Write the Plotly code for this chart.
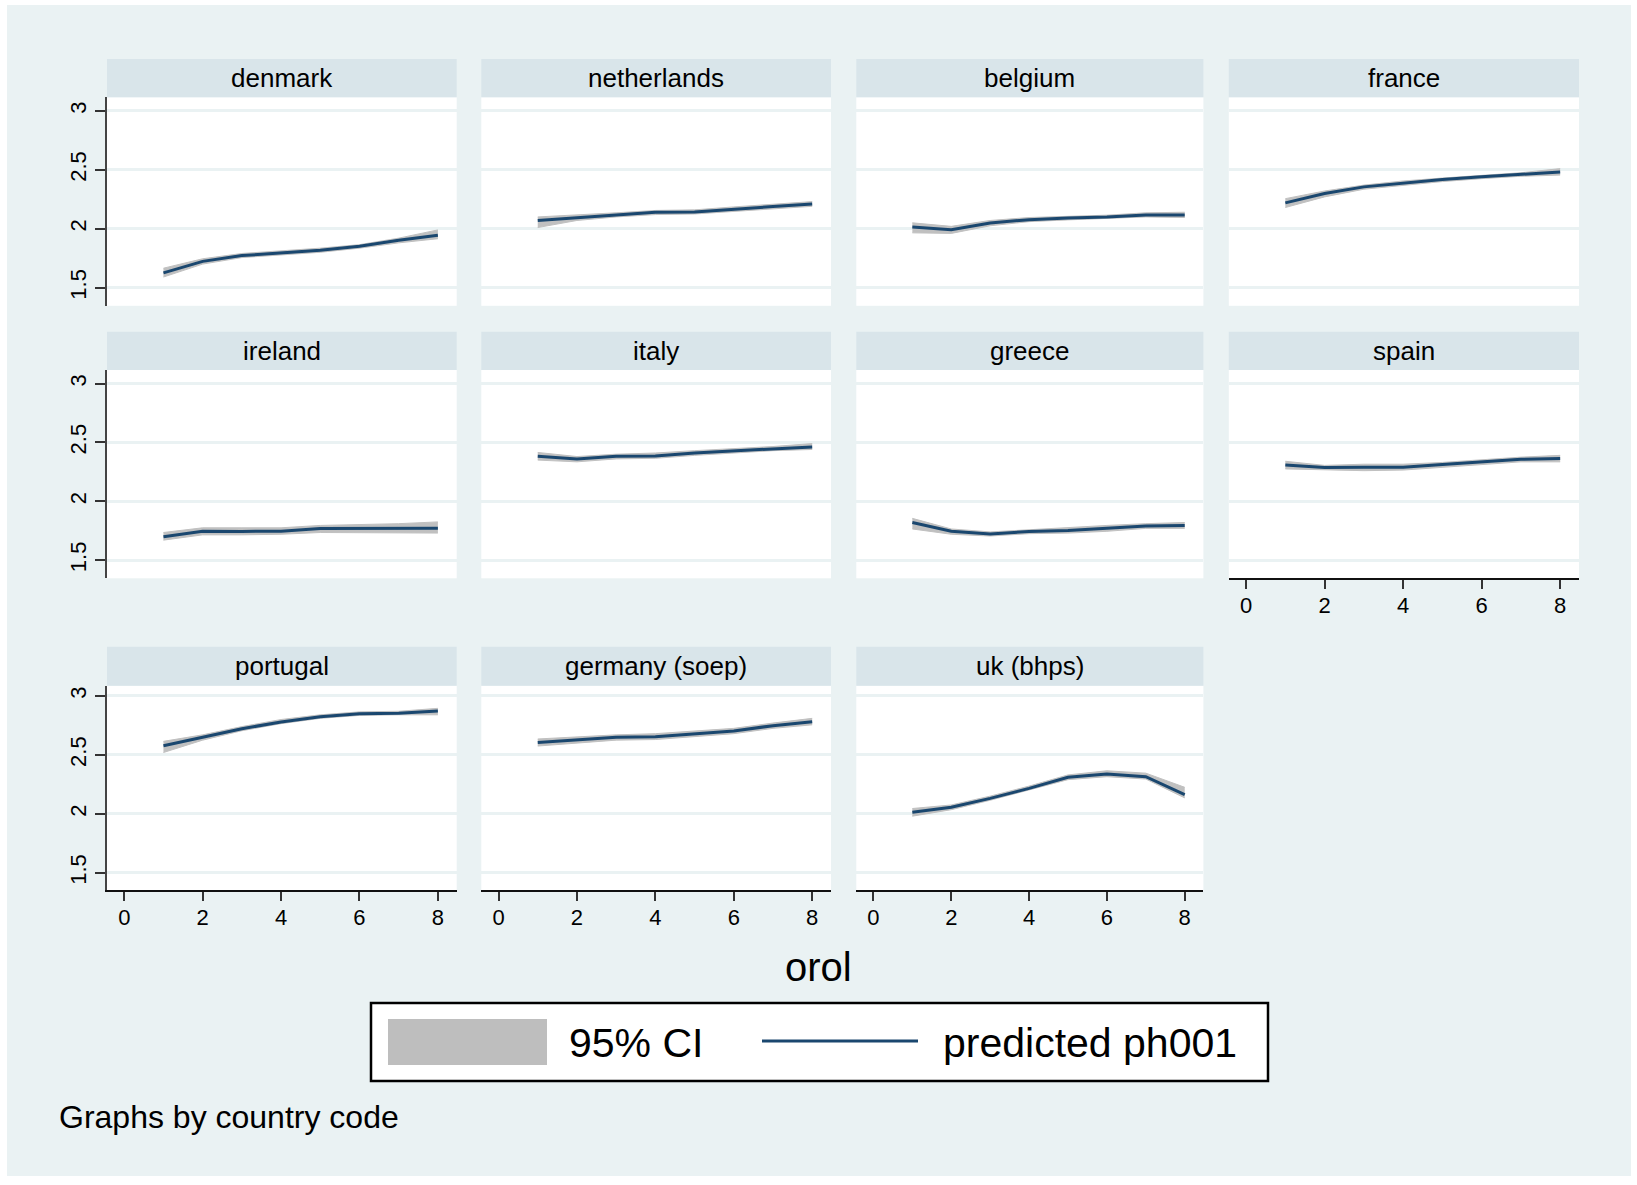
import plotly.graph_objects as go

# ---- data: predicted ph001 by orol, with 95% CI, per country ----
orol = [1, 2, 3, 4, 5, 6, 7, 8]

countries = ["denmark", "netherlands", "belgium", "france",
             "ireland", "italy", "greece", "spain",
             "portugal", "germany (soep)", "uk (bhps)"]

pred_denmark = [1.625, 1.723, 1.772, 1.795, 1.817, 1.851, 1.902, 1.944]
lo_denmark = [1.59, 1.70, 1.755, 1.78, 1.80, 1.835, 1.88, 1.915]
hi_denmark = [1.665, 1.745, 1.79, 1.81, 1.835, 1.865, 1.92, 1.99]

pred_netherlands = [2.069, 2.094, 2.117, 2.139, 2.142, 2.168, 2.188, 2.21]
lo_netherlands = [2.01, 2.07, 2.10, 2.12, 2.125, 2.145, 2.17, 2.19]
hi_netherlands = [2.10, 2.115, 2.135, 2.155, 2.16, 2.185, 2.205, 2.23]

pred_belgium = [2.015, 1.992, 2.049, 2.077, 2.091, 2.10, 2.117, 2.117]
lo_belgium = [1.965, 1.96, 2.025, 2.06, 2.075, 2.085, 2.10, 2.095]
hi_belgium = [2.05, 2.02, 2.07, 2.095, 2.105, 2.115, 2.135, 2.14]

pred_france = [2.219, 2.298, 2.355, 2.389, 2.417, 2.44, 2.459, 2.482]
lo_france = [2.18, 2.27, 2.335, 2.37, 2.40, 2.425, 2.445, 2.455]
hi_france = [2.255, 2.32, 2.37, 2.405, 2.43, 2.455, 2.475, 2.51]

pred_ireland = [1.698, 1.746, 1.744, 1.746, 1.769, 1.769, 1.772, 1.772]
lo_ireland = [1.67, 1.715, 1.715, 1.72, 1.735, 1.735, 1.735, 1.73]
hi_ireland = [1.735, 1.775, 1.775, 1.775, 1.795, 1.80, 1.81, 1.825]

pred_italy = [2.383, 2.36, 2.383, 2.385, 2.411, 2.428, 2.448, 2.462]
lo_italy = [2.35, 2.335, 2.36, 2.365, 2.39, 2.41, 2.43, 2.44]
hi_italy = [2.415, 2.38, 2.40, 2.41, 2.43, 2.445, 2.465, 2.49]

pred_greece = [1.82, 1.746, 1.723, 1.744, 1.752, 1.772, 1.791, 1.794]
lo_greece = [1.765, 1.72, 1.705, 1.725, 1.73, 1.745, 1.77, 1.77]
hi_greece = [1.855, 1.765, 1.74, 1.76, 1.775, 1.795, 1.81, 1.82]

pred_spain = [2.309, 2.287, 2.29, 2.29, 2.312, 2.335, 2.357, 2.363]
lo_spain = [2.275, 2.265, 2.26, 2.265, 2.29, 2.315, 2.335, 2.335]
hi_spain = [2.34, 2.305, 2.315, 2.315, 2.33, 2.355, 2.375, 2.39]

pred_portugal = [2.578, 2.649, 2.722, 2.779, 2.824, 2.85, 2.853, 2.873]
lo_portugal = [2.52, 2.625, 2.705, 2.765, 2.81, 2.835, 2.84, 2.84]
hi_portugal = [2.615, 2.67, 2.74, 2.80, 2.84, 2.865, 2.87, 2.895]

pred_germany = [2.604, 2.626, 2.649, 2.654, 2.677, 2.703, 2.748, 2.782]
lo_germany = [2.575, 2.60, 2.625, 2.63, 2.655, 2.68, 2.725, 2.755]
hi_germany = [2.635, 2.655, 2.67, 2.68, 2.70, 2.725, 2.77, 2.81]

pred_uk = [2.013, 2.055, 2.131, 2.216, 2.31, 2.338, 2.315, 2.162]
lo_uk = [1.98, 2.035, 2.115, 2.20, 2.29, 2.315, 2.295, 2.135]
hi_uk = [2.045, 2.075, 2.15, 2.235, 2.33, 2.365, 2.345, 2.225]

x_ticks = [0, 2, 4, 6, 8]
y_ticks = [1.5, 2, 2.5, 3]
y_ticktext = ["1.5", "2", "2.5", "3"]

series = [
    (pred_denmark, lo_denmark, hi_denmark),
    (pred_netherlands, lo_netherlands, hi_netherlands),
    (pred_belgium, lo_belgium, hi_belgium),
    (pred_france, lo_france, hi_france),
    (pred_ireland, lo_ireland, hi_ireland),
    (pred_italy, lo_italy, hi_italy),
    (pred_greece, lo_greece, hi_greece),
    (pred_spain, lo_spain, hi_spain),
    (pred_portugal, lo_portugal, hi_portugal),
    (pred_germany, lo_germany, hi_germany),
    (pred_uk, lo_uk, hi_uk),
]

# ---- styling / layout (pixel geometry of the 1637x1185 canvas) ----
W, H = 1637, 1185
FONT = "Liberation Sans, Arial, Helvetica, sans-serif"
BG = "#eaf2f3"
STRIP = "#d9e5ea"
NAVY = "#1a476f"
CI_GREY = "#c0c0c0"

COLS = [(107, 456.7), (481.3, 831), (856.3, 1203.4), (1228.8, 1579)]
ROWS = [(59, 97.3, 305.8), (331.7, 370, 578.3), (646.7, 685.7, 890.3)]
YRANGES = [(1.346, 3.115), (1.346, 3.115), (1.351, 3.087)]
XRANGE = (-0.44, 8.48)


def fx(px):
    return px / W


def fy(py):
    return 1 - py / H


fig = go.Figure()
layout = {}
shapes = []
annotations = []

for i, (name, (pred, lo, hi)) in enumerate(zip(countries, series)):
    r, c = divmod(i, 4)
    n = i + 1
    xa, ya = ("x", "y") if n == 1 else (f"x{n}", f"y{n}")
    show_x = (r == 2) or (name == "spain")
    show_y = (c == 0)

    fig.add_trace(go.Scatter(x=orol, y=lo, xaxis=xa, yaxis=ya, mode="lines",
                             line=dict(color=CI_GREY, width=1),
                             showlegend=False, hoverinfo="skip"))
    fig.add_trace(go.Scatter(x=orol, y=hi, xaxis=xa, yaxis=ya, mode="lines",
                             line=dict(color=CI_GREY, width=1),
                             fill="tonexty", fillcolor=CI_GREY,
                             showlegend=False, hoverinfo="skip"))
    fig.add_trace(go.Scatter(x=orol, y=pred, xaxis=xa, yaxis=ya, mode="lines",
                             line=dict(color=NAVY, width=3),
                             showlegend=False))

    x0, x1 = COLS[c]
    s_top, p_top, p_bot = ROWS[r]
    layout[f"xaxis{'' if n == 1 else n}"] = dict(
        domain=[fx(x0), fx(x1)], range=list(XRANGE), anchor=ya,
        showgrid=False, zeroline=False, tickvals=x_ticks,
        showticklabels=show_x, ticks="outside" if show_x else "",
        ticklen=9, tickwidth=1.5, tickcolor="#333333",
        showline=show_x, linecolor="#111111", linewidth=2,
        tickfont=dict(size=22, color="black", family=FONT),
        ticklabelstandoff=-3, fixedrange=True,
    )
    layout[f"yaxis{'' if n == 1 else n}"] = dict(
        domain=[fy(p_bot), fy(p_top)], range=list(YRANGES[r]), anchor=xa,
        showgrid=True, gridcolor=BG, gridwidth=3, zeroline=False,
        tickvals=y_ticks, ticktext=y_ticktext,
        showticklabels=show_y, ticks="outside" if show_y else "",
        ticklen=10, tickwidth=1.5, tickcolor="#333333", tickangle=-90,
        showline=show_y, linecolor="#444444", linewidth=1.5,
        tickfont=dict(size=22, color="black", family=FONT),
        fixedrange=True,
    )

    # strip heading above each panel
    shapes.append(dict(type="rect", xref="paper", yref="paper",
                       x0=fx(x0), x1=fx(x1), y0=fy(p_top), y1=fy(s_top),
                       fillcolor=STRIP, line=dict(width=0), layer="below"))
    annotations.append(dict(text=name, xref="paper", yref="paper",
                            x=fx((x0 + x1) / 2), y=fy((s_top + p_top) / 2),
                            xanchor="center", yanchor="middle", showarrow=False,
                            font=dict(size=26, color="black", family=FONT)))

# white frame around the light graph region
for (a, b, cc, d) in [(0, 0, W, 5), (0, 1176, W, H), (0, 0, 7, H), (1631, 0, W, H)]:
    shapes.append(dict(type="rect", xref="paper", yref="paper",
                       x0=fx(a), x1=fx(cc), y0=fy(d), y1=fy(b),
                       fillcolor="white", line=dict(width=0), layer="below"))

# x-axis title
annotations.append(dict(text="orol", xref="paper", yref="paper",
                        x=fx(819), y=fy(967), xanchor="center", yanchor="middle",
                        showarrow=False, font=dict(size=40, color="black", family=FONT)))

# legend box
shapes.append(dict(type="rect", xref="paper", yref="paper",
                   x0=fx(371), x1=fx(1268), y0=fy(1081), y1=fy(1003),
                   fillcolor="white", line=dict(color="black", width=2.5)))
shapes.append(dict(type="rect", xref="paper", yref="paper",
                   x0=fx(388), x1=fx(547), y0=fy(1065), y1=fy(1019),
                   fillcolor="#bebebe", line=dict(width=0)))
shapes.append(dict(type="line", xref="paper", yref="paper",
                   x0=fx(762), x1=fx(918), y0=fy(1041), y1=fy(1041),
                   line=dict(color=NAVY, width=3)))
annotations.append(dict(text="95% CI", xref="paper", yref="paper",
                        x=fx(567), y=fy(1043), xanchor="left", yanchor="middle",
                        showarrow=False, font=dict(size=41, color="black", family=FONT)))
annotations.append(dict(text="predicted ph001", xref="paper", yref="paper",
                        x=fx(941), y=fy(1043), xanchor="left", yanchor="middle",
                        showarrow=False, font=dict(size=41, color="black", family=FONT)))

# note
annotations.append(dict(text="Graphs by country code", xref="paper", yref="paper",
                        x=fx(57), y=fy(1117), xanchor="left", yanchor="middle",
                        showarrow=False, font=dict(size=32, color="black", family=FONT)))

fig.update_layout(
    width=W, height=H, margin=dict(l=0, r=0, t=0, b=0, pad=0),
    paper_bgcolor=BG, plot_bgcolor="white",
    shapes=shapes, annotations=annotations, showlegend=False,
    font=dict(family=FONT, color="black"),
    **layout,
)

fig.write_html("out.html", config={"displayModeBar": False})
